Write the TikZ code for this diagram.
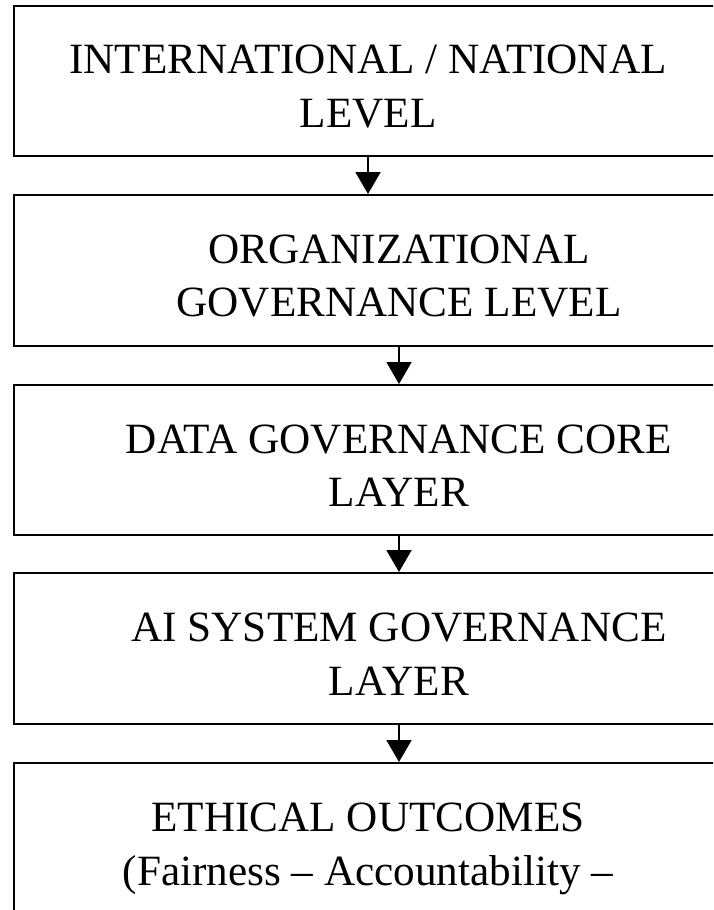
\documentclass[tikz,border=0pt]{standalone}
\usepackage{fontspec}
\setmainfont{Liberation Serif}
\usetikzlibrary{arrows.meta}
% strut that lowers the first line of a two-line label
\newcommand{\toppad}{\rule{0pt}{40pt}}
\begin{document}
\begin{tikzpicture}[x=1pt,y=-1pt,
  layerbox/.style={draw=black, line width=2pt, inner sep=0pt, align=center,
    font=\fontsize{43.2}{53.5}\selectfont},
  flow/.style={-{Triangle[length=22pt,width=25pt]}, line width=2pt}]
\useasboundingbox (0,0) rectangle (713,910);
\clip (0,0) rectangle (713,910);

\node[layerbox, minimum width=708pt, minimum height=150pt] (intl) at (368,81)
  {\toppad INTERNATIONAL / NATIONAL\\LEVEL};
\node[layerbox, minimum width=770pt, minimum height=151pt] (org) at (399,270.5)
  {\toppad ORGANIZATIONAL\\GOVERNANCE LEVEL};
\node[layerbox, minimum width=770pt, minimum height=150pt] (data) at (399,460)
  {\toppad DATA GOVERNANCE CORE\\LAYER};
\node[layerbox, minimum width=770pt, minimum height=151pt] (ai) at (399,648.5)
  {\toppad AI SYSTEM GOVERNANCE\\LAYER};
\node[layerbox, minimum width=708pt, minimum height=151pt] (ethics) at (368,838.5)
  {\toppad ETHICAL OUTCOMES\\\raisebox{0pt}[\height][0pt]{(Fairness -- Accountability --}};

\draw[flow] (intl.south) -- (intl.south |- org.north);
\draw[flow] (org.south) -- (org.south |- data.north);
\draw[flow] (data.south) -- (data.south |- ai.north);
\draw[flow] (ai.south) -- (ai.south |- ethics.north);
\end{tikzpicture}
\end{document}
